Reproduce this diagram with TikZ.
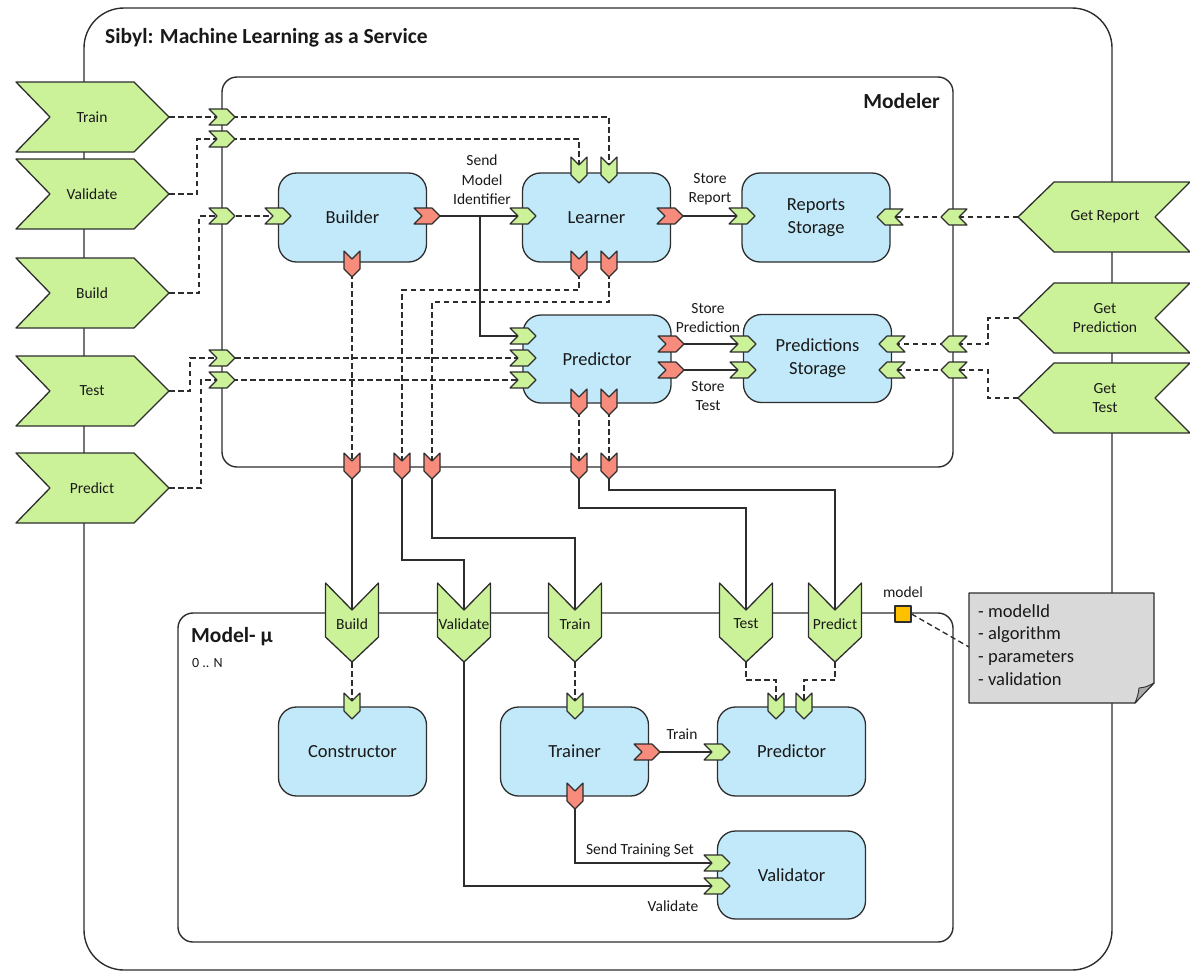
\documentclass[tikz,border=0pt]{standalone}
\usepackage{fontspec}
\setmainfont{Carlito}
\pgfdeclarelayer{back}
\pgfsetlayers{back,main}
\definecolor{chevgreen}{RGB}{204,242,153}
\definecolor{portred}{RGB}{247,140,124}
\definecolor{boxblue}{RGB}{194,233,249}
\definecolor{linegray}{RGB}{45,45,45}
\definecolor{textdark}{RGB}{25,25,25}
\definecolor{notegray}{RGB}{217,217,217}
\definecolor{foldgray}{RGB}{170,170,170}
\definecolor{attrorange}{RGB}{255,192,0}

% small port chevrons, drawn centred on a named coordinate
\newcommand\portE[2]{\draw[port,fill=#2,shift={(#1)}] (-13,-8) -- (5,-8) -- (13,0) -- (5,8) -- (-13,8) -- (-5,0) -- cycle;}
\newcommand\portW[2]{\draw[port,fill=#2,shift={(#1)}] (13,-8) -- (-5,-8) -- (-13,0) -- (-5,8) -- (13,8) -- (5,0) -- cycle;}
\newcommand\portS[2]{\draw[port,fill=#2,shift={(#1)}] (-8,-13) -- (0,-5) -- (8,-13) -- (8,5) -- (0,13) -- (-8,5) -- cycle;}

% process chevrons on the left border: name, centre y, label
\newcommand\procL[3]{%
  \draw[chevbig] (16,#2-35) -- (134,#2-35) -- (169,#2) -- (134,#2+35) -- (16,#2+35) -- (50,#2) -- cycle;
  \node[lbl] (#1) at (92,#2) {#3};
  \coordinate (#1-tip) at (169,#2);}
% process chevrons on the right border: name, centre y, label
\newcommand\procR[3]{%
  \draw[chevbig] (1018,#2) -- (1054,#2-35) -- (1190,#2-35) -- (1155,#2) -- (1190,#2+35) -- (1054,#2+35) -- cycle;
  \node[lbl] (#1) at (1105,#2) {#3};
  \coordinate (#1-tip) at (1018,#2);}
% interface chevrons on the top edge of Model-mu: name, centre x, label
\newcommand\modPort[3]{%
  \draw[chevbig] (#2-26.5,583) -- (#2,610) -- (#2+26.5,583) -- (#2+26.5,637) -- (#2,662) -- (#2-26.5,637) -- cycle;
  \node[lbl] (#1) at (#2,624) {#3};
  \coordinate (#1-in) at (#2,610);
  \coordinate (#1-out) at (#2,662);}

\begin{document}
\begin{tikzpicture}[x=1pt,y=-1pt,line join=round,
  frame/.style={draw=linegray,line width=1.4pt},
  wire/.style={draw=linegray,line width=1.35pt},
  dashwire/.style={wire,dash pattern=on 5.5pt off 3.5pt},
  chevbig/.style={draw=linegray,line width=1.3pt,fill=chevgreen},
  port/.style={draw=linegray,line width=1.1pt},
  box/.style={draw=linegray,line width=1.3pt,fill=boxblue,rounded corners=18pt,
    minimum width=148pt,minimum height=89pt,inner sep=0pt,align=center,
    text=textdark,font=\fontsize{18.5}{23}\selectfont},
  lbl/.style={inner sep=0pt,align=center,text=textdark,font=\fontsize{15.5}{19.5}\selectfont},
  heading/.style={inner sep=0pt,text=textdark,font=\fontsize{21.5}{25}\selectfont\bfseries},
  notetext/.style={inner sep=0pt,align=left,text=textdark,font=\fontsize{18.5}{22.7}\selectfont}]
\useasboundingbox (0,0) rectangle (1190,972);

% ---- frames
\draw[frame,rounded corners=40pt] (84,8) rectangle (1112,970);
\node[heading,anchor=west] (title) at (105,38) {Sibyl: Machine Learning as a Service};
\draw[frame,rounded corners=15pt] (222,77) rectangle (953,467);
\node[heading,anchor=east] (modeler) at (940,101) {Modeler};
\draw[frame,rounded corners=15pt] (178,613) rectangle (953,942);
\node[heading,anchor=west] (modelmu) at (191,637) {Model- µ};
\node[lbl,anchor=west,font=\fontsize{14}{16}\selectfont] (mult) at (192,663) {0 .. N};

% ---- components
\node[box] (builder) at (352.5,217.5) {Builder};
\node[box] (learner) at (596.5,217.5) {Learner};
\node[box] (reports) at (816,217.5) {Reports\\Storage};
\node[box,minimum height=88pt] (mpredictor) at (597,359) {Predictor};
\node[box,minimum height=88pt] (pstorage) at (817.5,358.5) {Predictions\\Storage};
\node[box] (constructor) at (352.5,751.5) {Constructor};
\node[box] (trainer) at (574.5,751.5) {Trainer};
\node[box] (predictor) at (791.5,751.5) {Predictor};
\node[box,minimum height=88pt] (validator) at (791.5,875) {Validator};

% ---- process chevrons
\procL{trainP}{117}{Train}
\procL{valP}{194}{Validate}
\procL{buildP}{293}{Build}
\procL{testP}{391}{Test}
\procL{predP}{488}{Predict}
\procR{getRep}{217}{Get Report}
\procR{getPred}{318}{Get\\Prediction}
\procR{getTest}{398}{Get\\Test}

\modPort{buildC}{352}{Build}
\modPort{valC}{464}{Validate}
\modPort{trainC}{575}{Train}
\modPort{testC}{746}{Test}
\modPort{predC}{835}{Predict}

% ---- port positions
\coordinate (mTrainIn) at (222,117);
\coordinate (mValIn) at (222,139);
\coordinate (mBuildIn) at (222,216);
\coordinate (mTestIn) at (222,358);
\coordinate (mPredIn) at (222,380);
\coordinate (bIn) at (278,216);
\coordinate (bOut) at (427,216);
\coordinate (bDown) at (352,264);
\coordinate (lIn) at (523,216);
\coordinate (lVal) at (579,170);
\coordinate (lTrain) at (609,170);
\coordinate (lOut) at (670,216);
\coordinate (lDownA) at (579,264);
\coordinate (lDownB) at (609,264);
\coordinate (rIn) at (742,216);
\coordinate (rGet) at (890,217);
\coordinate (mGetRep) at (954,217);
\coordinate (mGetPred) at (954,344);
\coordinate (mGetTest) at (954,370);
\coordinate (pId) at (523,336);
\coordinate (pTest) at (523,358);
\coordinate (pPred) at (523,380);
\coordinate (pOutA) at (671,344);
\coordinate (pOutB) at (671,370);
\coordinate (pDownA) at (579,402);
\coordinate (pDownB) at (609,402);
\coordinate (sInA) at (743,344);
\coordinate (sInB) at (743,370);
\coordinate (sGetA) at (892,344);
\coordinate (sGetB) at (892,370);
\coordinate (mOutBuild) at (352,466);
\coordinate (mOutVal) at (402,466);
\coordinate (mOutTrain) at (432,466);
\coordinate (mOutTest) at (579,466);
\coordinate (mOutPred) at (609,466);
\coordinate (cIn) at (352,706);
\coordinate (tIn) at (575,706);
\coordinate (tOut) at (647,752);
\coordinate (tDown) at (575,796);
\coordinate (prIn) at (717,752);
\coordinate (prTest) at (776,706);
\coordinate (prPred) at (804,706);
\coordinate (vSet) at (717,863);
\coordinate (vVal) at (717,886);
\coordinate (smiSplit) at (480,216);

% ---- ports
\portE{mTrainIn}{chevgreen}
\portE{mValIn}{chevgreen}
\portE{mBuildIn}{chevgreen}
\portE{mTestIn}{chevgreen}
\portE{mPredIn}{chevgreen}
\portE{bIn}{chevgreen}
\portE{bOut}{portred}
\portS{bDown}{portred}
\portE{lIn}{chevgreen}
\portS{lVal}{chevgreen}
\portS{lTrain}{chevgreen}
\portE{lOut}{portred}
\portS{lDownA}{portred}
\portS{lDownB}{portred}
\portE{rIn}{chevgreen}
\portW{rGet}{chevgreen}
\portW{mGetRep}{chevgreen}
\portW{mGetPred}{chevgreen}
\portW{mGetTest}{chevgreen}
\portE{pId}{chevgreen}
\portE{pTest}{chevgreen}
\portE{pPred}{chevgreen}
\portE{pOutA}{portred}
\portE{pOutB}{portred}
\portS{pDownA}{portred}
\portS{pDownB}{portred}
\portE{sInA}{chevgreen}
\portE{sInB}{chevgreen}
\portW{sGetA}{chevgreen}
\portW{sGetB}{chevgreen}
\portS{mOutBuild}{portred}
\portS{mOutVal}{portred}
\portS{mOutTrain}{portred}
\portS{mOutTest}{portred}
\portS{mOutPred}{portred}
\portS{cIn}{chevgreen}
\portS{tIn}{chevgreen}
\portE{tOut}{portred}
\portS{tDown}{portred}
\portE{prIn}{chevgreen}
\portS{prTest}{chevgreen}
\portS{prPred}{chevgreen}
\portE{vSet}{chevgreen}
\portE{vVal}{chevgreen}

% ---- connector labels
\node[lbl] (smiLbl) at (482,180) {Send\\Model\\Identifier};
\node[lbl] (srLbl) at (710,189) {Store\\Report};
\node[lbl] (spLbl) at (708,318) {Store\\Prediction};
\node[lbl] (stLbl) at (708,396) {Store\\Test};
\node[lbl] (trLbl) at (682,734) {Train};
\node[lbl] (stsLbl) at (640,850) {Send Training Set};
\node[lbl] (vLbl) at (673,906) {Validate};

% ---- model attribute and its note
\node[lbl] (attrLbl) at (903,592) {model};
\node[draw=linegray,fill=attrorange,line width=1.1pt,minimum size=16pt,inner sep=0pt] (modelattr) at (903,614) {};
\draw[draw=linegray,line width=1.2pt,fill=notegray] (969,593) -- (1154,593) -- (1154,683) -- (1135,703) -- (969,703) -- cycle;
\draw[draw=linegray,line width=0.9pt,fill=foldgray] (1154,683) -- (1135,703) .. controls (1138,695) .. (1139,688) .. controls (1146,687) .. (1154,683) -- cycle;
\node[notetext,anchor=north west] (note) at (978,604) {- modelId\\- algorithm\\- parameters\\- validation};
\coordinate (noteEdge) at (969,647);

% ---- connectors (behind the ports)
\begin{pgfonlayer}{back}
\draw[dashwire] (trainP-tip) -- (mTrainIn) -- (mTrainIn -| lTrain) -- (lTrain);
\draw[dashwire] (valP-tip) -- ++(28,0) |- (mValIn) -- (mValIn -| lVal) -- (lVal);
\draw[dashwire] (buildP-tip) -- ++(30,0) |- (mBuildIn) -- (bIn);
\draw[dashwire] (testP-tip) -- ++(21,0) |- (mTestIn) -- (pTest);
\draw[dashwire] (predP-tip) -- ++(32,0) |- (mPredIn) -- (pPred);
\draw[dashwire] (bDown) -- (mOutBuild);
\draw[dashwire] (lDownA) -- ++(0,26) -| (mOutVal);
\draw[dashwire] (lDownB) -- ++(0,38) -| (mOutTrain);
\draw[dashwire] (pDownA) -- (mOutTest);
\draw[dashwire] (pDownB) -- (mOutPred);
\draw[dashwire] (getRep-tip) -- (mGetRep) -- (rGet);
\draw[dashwire] (getPred-tip) -- ++(-30,0) |- (mGetPred) -- (sGetA);
\draw[dashwire] (getTest-tip) -- ++(-30,0) |- (mGetTest) -- (sGetB);
\draw[dashwire] (buildC-out) -- (cIn);
\draw[dashwire] (trainC-out) -- (tIn);
\draw[dashwire] (testC-out) -- ++(0,18) -| (prTest);
\draw[dashwire] (predC-out) -- ++(0,18) -| (prPred);
\draw[dashwire] (modelattr.east) -- (noteEdge);

\draw[wire] (bOut) -- (lIn);
\draw[wire] (smiSplit) |- (pId);
\draw[wire] (lOut) -- (rIn);
\draw[wire] (pOutA) -- (sInA);
\draw[wire] (pOutB) -- (sInB);
\draw[wire] (mOutBuild) -- (buildC-in);
\draw[wire] (mOutVal) -- ++(0,94) -| (valC-in);
\draw[wire] (mOutTrain) -- ++(0,72) -| (trainC-in);
\draw[wire] (mOutTest) -- ++(0,42) -| (testC-in);
\draw[wire] (mOutPred) -- ++(0,24) -| (predC-in);
\draw[wire] (tOut) -- (prIn);
\draw[wire] (tDown) |- (vSet);
\draw[wire] (valC-out) |- (vVal);
\end{pgfonlayer}
\end{tikzpicture}
\end{document}
